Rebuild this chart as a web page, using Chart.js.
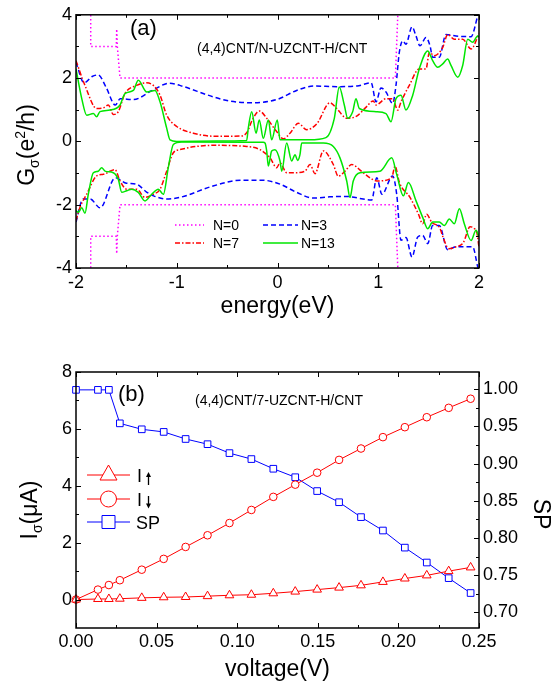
<!DOCTYPE html>
<html>
<head>
<meta charset="utf-8">
<script src="https://cdn.jsdelivr.net/npm/chart.js@4.4.1/dist/chart.umd.min.js"></script>
<style>
  html, body { margin: 0; padding: 0; background: #fff; }
  #wrap { position: relative; width: 552px; height: 688px; }
  canvas { position: absolute; left: 0; }
  #chart-a { top: 0; }
  #chart-b { top: 340px; }
</style>
</head>
<body>
<div id="wrap">
  <canvas id="chart-a" width="552" height="340"></canvas>
  <canvas id="chart-b" width="552" height="348"></canvas>
</div>
<script>
// ---- panel (a): conductance vs energy, [energy eV, G e^2/h] ----
const n0Up = [[-1.854, 4.5], [-1.854, 3], [-1.60, 3], [-1.596, 3.55], [-1.59, 3], [-1.563, 2], [1.17, 2], [1.20, 4.5]];
const n0Down = [[-1.854, -4.5], [-1.854, -3], [-1.60, -3], [-1.596, -3.55], [-1.59, -3], [-1.563, -2], [1.17, -2], [1.20, -4.5]];

const n3Up = [[-2, 2.5], [-1.92, 1.85], [-1.84, 2.05], [-1.78, 2.1], [-1.70, 1.7], [-1.61, 1.15], [-1.56, 1.35],
  [-1.43, 1.32], [-1.25, 1.6], [-1.07, 1.84], [-0.97, 1.77], [-0.64, 1.41], [-0.47, 1.27], [-0.25, 1.22],
  [0.0, 1.33], [0.19, 1.61], [0.36, 1.75], [0.59, 1.73], [0.79, 1.75], [0.93, 1.85], [0.978, 1.25],
  [1.027, 1.69], [1.077, 1.56], [1.143, 1.2], [1.176, 1.77], [1.209, 2.81], [1.243, 3.18], [1.275, 3.07],
  [1.335, 3.62], [1.375, 3.33], [1.414, 3.02], [1.474, 3.28], [1.514, 3.02], [1.54, 2.66], [1.606, 2.66],
  [1.672, 3.38], [1.772, 3.33], [1.921, 3.31], [1.987, 3.96], [2.0, 4.1]];
const n3Down = [[-2, -2.55], [-1.93, -1.82], [-1.86, -1.82], [-1.76, -2.1], [-1.61, -1.15], [-1.50, -1.32],
  [-1.40, -1.35], [-1.30, -1.6], [-1.23, -1.72], [-1.10, -1.82], [-0.97, -1.77], [-0.64, -1.41], [-0.37, -1.23],
  [-0.14, -1.23], [0.025, -1.35], [0.19, -1.61], [0.355, -1.79], [0.52, -1.75], [0.69, -1.74], [0.85, -1.82],
  [0.935, -1.85], [0.985, -1.15], [1.037, -1.67], [1.143, -1.09], [1.183, -1.67], [1.226, -3.12], [1.275, -3.04],
  [1.335, -3.65], [1.392, -3.02], [1.441, -2.97], [1.491, -3.23], [1.54, -2.66], [1.606, -2.66], [1.689, -3.42],
  [1.772, -3.33], [1.937, -3.33], [1.987, -3.96], [2.0, -4.1]];

const n7Up = [[-2, 2.55], [-1.911, 1.77], [-1.795, 1.04], [-1.729, 1.06], [-1.679, 1.15], [-1.63, 0.85],
  [-1.58, 0.94], [-1.514, 1.51], [-1.398, 1.77], [-1.30, 1.85], [-1.233, 1.77], [-1.166, 1.46], [-1.10, 0.83],
  [-1.0, 0.47], [-0.836, 0.26], [-0.604, 0.16], [-0.36, 0.17], [-0.30, 0.3], [-0.25, 0.68], [-0.18, 0.96],
  [-0.107, 0.73], [-0.008, 0.31], [0.058, 0.08], [0.124, 0.26], [0.207, 0.57], [0.29, 0.37], [0.389, 0.55],
  [0.521, 1.22], [0.588, 1.04], [0.687, 0.73], [0.786, 0.8], [0.885, 1.1], [0.951, 1.28], [0.978, 1.15],
  [1.077, 1.35], [1.143, 1.35], [1.193, 0.99], [1.226, 1.25], [1.308, 1.77], [1.407, 2.29], [1.474, 2.29],
  [1.507, 2.81], [1.556, 2.71], [1.64, 2.97], [1.689, 3.38], [1.755, 3.23], [1.838, 3.23], [1.921, 2.92], [2.0, 3.4]];
const n7Down = [[-2, -2.5], [-1.96, -2.08], [-1.894, -1.67], [-1.795, -1.09], [-1.729, -1.04], [-1.613, -0.89],
  [-1.563, -1.25], [-1.497, -1.51], [-1.398, -1.51], [-1.315, -1.77], [-1.233, -1.67], [-1.166, -1.51],
  [-1.10, -0.94], [-1.034, -0.36], [-0.968, -0.26], [-0.637, -0.125], [-0.306, -0.16], [-0.174, -0.26],
  [-0.074, -0.52], [-0.008, -0.83], [0.025, -0.68], [0.091, -0.99], [0.174, -0.99], [0.273, -0.94],
  [0.323, -0.73], [0.372, -1.02], [0.455, -0.3], [0.554, -0.73], [0.603, -1.1], [0.67, -0.94], [0.737, -0.73],
  [0.836, -0.95], [0.918, -1.15], [0.985, -1.25], [1.134, -1.15], [1.166, -0.78], [1.21, -1.3], [1.315, -1.77],
  [1.398, -2.29], [1.441, -2.6], [1.48, -2.3], [1.53, -2.55], [1.613, -2.75], [1.64, -3.0], [1.70, -3.39],
  [1.772, -3.33], [1.844, -3.2], [1.911, -2.7], [1.953, -2.75], [1.98, -2.9], [2.0, -3.35]];

const n13Up = [[-2, 2.29], [-1.943, 1.35], [-1.894, 0.83], [-1.828, 0.88], [-1.795, 0.78], [-1.762, 0.94],
  [-1.663, 0.99], [-1.563, 1.15], [-1.514, 1.51], [-1.431, 1.61], [-1.382, 1.93], [-1.298, 1.56], [-1.216, 1.61],
  [-1.166, 1.25], [-1.10, 0.42], [-1.067, 0.05], [-1.0, 0.0], [-0.6, 0.01], [-0.306, 0.03], [-0.29, 0.42],
  [-0.256, 0.94], [-0.213, 0.26], [-0.181, 0.68], [-0.141, 0.1], [-0.091, 0.68], [-0.058, 0.05], [-0.002, 0.68],
  [0.025, 0.05], [0.316, 0.05], [0.481, 0.12], [0.564, 0.73], [0.613, 1.72], [0.663, 1.15], [0.697, 0.73],
  [0.746, 0.94], [0.779, 1.35], [0.812, 1.04], [0.978, 0.94], [1.077, 0.88], [1.127, 0.62], [1.176, 1.35],
  [1.226, 1.46], [1.275, 0.99], [1.342, 1.46], [1.407, 2.29], [1.491, 2.86], [1.54, 2.55], [1.59, 2.34],
  [1.64, 2.45], [1.689, 2.6], [1.722, 2.4], [1.789, 2.03], [1.838, 2.4], [1.888, 3.23], [1.937, 3.13], [1.987, 3.33], [2.0, 3.3]];
const n13Down = [[-2, -2.19], [-1.977, -2.24], [-1.943, -2.1], [-1.911, -2.27], [-1.878, -1.67], [-1.828, -0.99],
  [-1.779, -0.94], [-1.745, -0.83], [-1.712, -0.94], [-1.63, -0.99], [-1.58, -1.2], [-1.546, -1.61],
  [-1.497, -1.56], [-1.447, -1.51], [-1.382, -1.61], [-1.315, -1.88], [-1.249, -1.67], [-1.183, -1.51],
  [-1.133, -1.67], [-1.084, -0.83], [-1.034, -0.1], [-0.951, -0.02], [-0.141, -0.03], [-0.124, -0.05],
  [-0.107, -0.31], [-0.091, -0.78], [-0.058, -0.3], [-0.025, -0.26], [0.025, -0.62], [0.042, -0.94],
  [0.091, -0.05], [0.141, -0.62], [0.174, -0.42], [0.2, -0.6], [0.223, -0.42], [0.24, -0.05], [0.455, -0.05],
  [0.554, -0.16], [0.62, -0.52], [0.687, -1.25], [0.72, -1.77], [0.752, -1.25], [0.819, -0.99], [1.017, -0.94],
  [1.134, -0.52], [1.183, -1.04], [1.249, -1.72], [1.299, -1.3], [1.375, -1.88], [1.441, -2.4], [1.491, -2.76],
  [1.54, -2.55], [1.606, -2.55], [1.656, -2.66], [1.705, -2.45], [1.755, -2.6], [1.805, -2.13], [1.854, -2.6],
  [1.921, -3.13], [1.97, -2.81], [2.0, -3.02]];

const energyMajor = [-2, -1, 0, 1, 2];
const energyMinor = [-1.5, -0.5, 0.5, 1.5];
const gMajor = [-4, -2, 0, 2, 4];
const gMinor = [-3, -1, 1, 3];

// ---- panel (b): current and spin polarisation vs bias ----
const voltage = [0, 0.0136, 0.0204, 0.0272, 0.0408, 0.0544, 0.068, 0.0816, 0.0952, 0.1088,
  0.1224, 0.136, 0.1496, 0.1632, 0.1768, 0.1904, 0.204, 0.2176, 0.2312, 0.2448];
const iUp = [0, 0.02, 0.02, 0.03, 0.06, 0.08, 0.09, 0.12, 0.15, 0.17,
  0.22, 0.28, 0.35, 0.42, 0.50, 0.62, 0.74, 0.85, 1.0, 1.13];
const iDown = [0, 0.35, 0.51, 0.68, 1.05, 1.43, 1.85, 2.26, 2.69, 3.15,
  3.61, 4.04, 4.46, 4.91, 5.31, 5.71, 6.06, 6.41, 6.74, 7.06];
const spol = [0.999, 0.999, 0.999, 0.954, 0.946, 0.9425, 0.933, 0.926, 0.914, 0.906,
  0.893, 0.8816, 0.863, 0.848, 0.828, 0.810, 0.787, 0.767, 0.746, 0.726];

const vMajor = [0, 0.05, 0.1, 0.15, 0.2, 0.25];
const vMinor = [0.025, 0.075, 0.125, 0.175, 0.225];
const iMajor = [0, 2, 4, 6, 8];
const iMinor = [1, 3, 5, 7];
const spMajor = [0.7, 0.75, 0.8, 0.85, 0.9, 0.95, 1.0];
const spMinor = [0.725, 0.775, 0.825, 0.875, 0.925, 0.975];

const FONT = 'Arial, "Liberation Sans", Helvetica, sans-serif';
Chart.defaults.font.family = FONT;
Chart.defaults.color = '#000';

const MAGENTA = '#ff00ff', BLUE = '#0000ff', RED = '#ff0000', GREEN = '#00e600';
const DASH = { n0: [1.5, 2.5], n3: [5, 3], n7: [5, 2, 1.5, 2], n13: [] };

function curve(points, color, dash, smooth) {
  return {
    data: points.map(p => ({ x: p[0], y: p[1] })),
    borderColor: color,
    borderWidth: 1.5,
    borderDash: dash,
    pointRadius: 0,
    fill: false,
    tension: 0,
    cubicInterpolationMode: smooth ? 'monotone' : 'default'
  };
}

function drawTicks(chart, list) {
  const ctx = chart.ctx, a = chart.chartArea;
  ctx.save();
  ctx.strokeStyle = '#000';
  ctx.lineWidth = 1;
  list.forEach(t => {
    const s = chart.scales[t.scale];
    t.values.forEach(v => {
      const p = Math.round(s.getPixelForValue(v)) + 0.5;
      ctx.beginPath();
      if (t.side === 'bottom') { ctx.moveTo(p, a.bottom); ctx.lineTo(p, a.bottom - t.len); }
      if (t.side === 'top') { ctx.moveTo(p, a.top); ctx.lineTo(p, a.top + t.len); }
      if (t.side === 'left') { ctx.moveTo(a.left, p); ctx.lineTo(a.left + t.len, p); }
      if (t.side === 'right') { ctx.moveTo(a.right, p); ctx.lineTo(a.right - t.len, p); }
      ctx.stroke();
    });
  });
  ctx.lineWidth = 1.5;
  ctx.strokeRect(a.left, a.top, a.right - a.left, a.bottom - a.top);
  ctx.restore();
}

// text made of pieces with sub/superscripts, centred on (x, y) along the baseline
function drawRich(ctx, parts, x, y, rot) {
  ctx.save();
  ctx.translate(x, y);
  ctx.rotate(rot);
  ctx.fillStyle = '#000';
  ctx.textBaseline = 'alphabetic';
  ctx.textAlign = 'left';
  let w = 0;
  parts.forEach(p => { ctx.font = p.size + 'px ' + FONT; w += ctx.measureText(p.t).width; });
  let cx = -w / 2;
  parts.forEach(p => {
    ctx.font = p.size + 'px ' + FONT;
    ctx.fillText(p.t, cx, p.dy || 0);
    cx += ctx.measureText(p.t).width;
  });
  ctx.restore();
}

function text(ctx, s, x, y, size) {
  ctx.save();
  ctx.fillStyle = '#000';
  ctx.font = size + 'px ' + FONT;
  ctx.textBaseline = 'alphabetic';
  ctx.textAlign = 'left';
  ctx.fillText(s, x, y);
  ctx.restore();
}

// spin arrow drawn as a stroke with a head, tip at (x, tip)
function spinArrow(ctx, x, tip, tail) {
  const dir = tail > tip ? 1 : -1;
  ctx.save();
  ctx.strokeStyle = '#000';
  ctx.fillStyle = '#000';
  ctx.lineWidth = 1.3;
  ctx.beginPath();
  ctx.moveTo(x, tip + dir * 3);
  ctx.lineTo(x, tail);
  ctx.stroke();
  ctx.beginPath();
  ctx.moveTo(x, tip);
  ctx.lineTo(x - 2.5, tip + dir * 5);
  ctx.lineTo(x + 2.5, tip + dir * 5);
  ctx.closePath();
  ctx.fill();
  ctx.restore();
}

function legendLine(ctx, x1, x2, y, color, dash) {
  ctx.save();
  ctx.strokeStyle = color;
  ctx.lineWidth = 1.5;
  ctx.setLineDash(dash);
  ctx.beginPath();
  ctx.moveTo(x1, y);
  ctx.lineTo(x2, y);
  ctx.stroke();
  ctx.restore();
}

const decorA = {
  id: 'decorA',
  afterDraw(chart) {
    const ctx = chart.ctx;
    drawTicks(chart, [
      { scale: 'x', values: energyMajor, side: 'bottom', len: 5 },
      { scale: 'x', values: energyMinor, side: 'bottom', len: 3 },
      { scale: 'x', values: energyMajor, side: 'top', len: 5 },
      { scale: 'x', values: energyMinor, side: 'top', len: 3 },
      { scale: 'y', values: gMajor, side: 'left', len: 5 },
      { scale: 'y', values: gMinor, side: 'left', len: 3 },
      { scale: 'y', values: gMajor, side: 'right', len: 5 },
      { scale: 'y', values: gMinor, side: 'right', len: 3 }
    ]);
    text(ctx, '(a)', 130, 35, 22);
    text(ctx, '(4,4)CNT/N-UZCNT-H/CNT', 197, 53, 14);
    drawRich(ctx, [{ t: 'energy(eV)', size: 23 }], 277.5, 313, 0);
    drawRich(ctx, [
      { t: 'G', size: 23 }, { t: 'σ', size: 14, dy: 5 }, { t: '(e', size: 23 },
      { t: '2', size: 14, dy: -9 }, { t: '/h)', size: 23 }
    ], 34, 145, -Math.PI / 2);
    legendLine(ctx, 175, 204, 225, MAGENTA, DASH.n0);
    legendLine(ctx, 175, 204, 243, RED, DASH.n7);
    legendLine(ctx, 263, 298, 225, BLUE, DASH.n3);
    legendLine(ctx, 263, 298, 243, GREEN, DASH.n13);
    text(ctx, 'N=0', 213, 230, 14);
    text(ctx, 'N=7', 213, 248, 14);
    text(ctx, 'N=3', 301, 230, 14);
    text(ctx, 'N=13', 301, 248, 14);
  }
};

function legendMarker(ctx, kind, x, y, color) {
  ctx.save();
  ctx.strokeStyle = color;
  ctx.fillStyle = '#fff';
  ctx.lineWidth = 1;
  ctx.beginPath();
  ctx.moveTo(87, y);
  ctx.lineTo(130, y);
  ctx.stroke();
  ctx.beginPath();
  if (kind === 'triangle') {
    ctx.moveTo(x, y - 10);
    ctx.lineTo(x + 8.5, y + 5);
    ctx.lineTo(x - 8.5, y + 5);
    ctx.closePath();
  } else if (kind === 'circle') {
    ctx.arc(x, y, 8, 0, Math.PI * 2);
  } else {
    ctx.rect(x - 6.5, y - 6.5, 13, 13);
  }
  ctx.fill();
  ctx.stroke();
  ctx.restore();
}

const decorB = {
  id: 'decorB',
  afterDraw(chart) {
    const ctx = chart.ctx;
    drawTicks(chart, [
      { scale: 'x', values: vMajor, side: 'bottom', len: 5 },
      { scale: 'x', values: vMinor, side: 'bottom', len: 3 },
      { scale: 'x', values: vMajor, side: 'top', len: 5 },
      { scale: 'x', values: vMinor, side: 'top', len: 3 },
      { scale: 'y', values: iMajor, side: 'left', len: 5 },
      { scale: 'y', values: iMinor, side: 'left', len: 3 },
      { scale: 'y1', values: spMajor, side: 'right', len: 5 },
      { scale: 'y1', values: spMinor, side: 'right', len: 3 }
    ]);
    // this canvas starts 340px down the page
    text(ctx, '(b)', 118, 61, 22);
    text(ctx, '(4,4)CNT/7-UZCNT-H/CNT', 195, 65, 14);
    drawRich(ctx, [{ t: 'voltage(V)', size: 23 }], 277.5, 336, 0);
    drawRich(ctx, [
      { t: 'I', size: 23 }, { t: 'σ', size: 14, dy: 5 }, { t: '(μA)', size: 23 }
    ], 37, 170, -Math.PI / 2);
    drawRich(ctx, [{ t: 'SP', size: 23 }], 534, 174, Math.PI / 2);
    legendMarker(ctx, 'triangle', 108.5, 135, RED);
    legendMarker(ctx, 'circle', 108.5, 159, RED);
    legendMarker(ctx, 'rect', 108.5, 182, BLUE);
    text(ctx, 'I', 137, 141.5, 18);
    spinArrow(ctx, 148.5, 132, 145);
    text(ctx, 'I', 137, 165.5, 18);
    spinArrow(ctx, 148.5, 168.5, 156);
    text(ctx, 'SP', 136, 188.5, 18);
  }
};

const tickFont = { size: 18 };

new Chart(document.getElementById('chart-a'), {
  type: 'line',
  data: {
    datasets: [
      curve(n13Up, GREEN, DASH.n13, true),
      curve(n13Down, GREEN, DASH.n13, true),
      curve(n7Up, RED, DASH.n7, true),
      curve(n7Down, RED, DASH.n7, true),
      curve(n3Up, BLUE, DASH.n3, true),
      curve(n3Down, BLUE, DASH.n3, true),
      curve(n0Up, MAGENTA, DASH.n0, false),
      curve(n0Down, MAGENTA, DASH.n0, false)
    ]
  },
  options: {
    responsive: false,
    animation: false,
    events: [],
    layout: { padding: { top: 12, right: 73, left: 0, bottom: 0 } },
    plugins: { legend: { display: false }, tooltip: { enabled: false } },
    scales: {
      x: {
        type: 'linear', min: -2, max: 2,
        grid: { display: false, drawTicks: false },
        border: { display: false },
        ticks: { stepSize: 1, includeBounds: false, maxRotation: 0, autoSkip: false, padding: 4, font: tickFont, color: '#000' },
        afterFit: s => { s.height = 72; }
      },
      y: {
        type: 'linear', min: -4, max: 4,
        grid: { display: false, drawTicks: false },
        border: { display: false },
        ticks: { stepSize: 2, includeBounds: false, padding: 4, font: tickFont, color: '#000' },
        afterFit: s => { s.width = 76; }
      }
    }
  },
  plugins: [decorA]
});

function series(values, color, style, radius, axis) {
  return {
    data: voltage.map((v, i) => ({ x: v, y: values[i] })),
    borderColor: color,
    borderWidth: 1,
    pointStyle: style,
    pointRadius: radius,
    pointBorderWidth: 1,
    pointBorderColor: color,
    pointBackgroundColor: '#fff',
    fill: false,
    tension: 0,
    clip: false,
    yAxisID: axis
  };
}

new Chart(document.getElementById('chart-b'), {
  type: 'line',
  data: {
    datasets: [
      series(iUp, RED, 'triangle', 5, 'y'),
      series(iDown, RED, 'circle', 3.8, 'y'),
      series(spol, BLUE, 'rect', 4.7, 'y1')
    ]
  },
  options: {
    responsive: false,
    animation: false,
    events: [],
    layout: { padding: { top: 32, right: 0, left: 0, bottom: 0 } },
    plugins: { legend: { display: false }, tooltip: { enabled: false } },
    scales: {
      x: {
        type: 'linear', min: 0, max: 0.25,
        grid: { display: false, drawTicks: false },
        border: { display: false },
        ticks: { stepSize: 0.05, includeBounds: false, maxRotation: 0, autoSkip: false, padding: 3, font: tickFont, color: '#000',
          callback: v => v.toFixed(2) },
        afterFit: s => { s.height = 60; }
      },
      y: {
        type: 'linear', position: 'left', min: -1, max: 8,
        grid: { display: false, drawTicks: false },
        border: { display: false },
        ticks: { stepSize: 2, includeBounds: false, padding: 4, font: tickFont, color: '#000' },
        afterFit: s => { s.width = 76; }
      },
      y1: {
        type: 'linear', position: 'right', min: 0.679, max: 1.023,
        grid: { display: false, drawTicks: false },
        border: { display: false },
        ticks: { stepSize: 0.05, includeBounds: false, padding: 4, font: tickFont, color: '#000',
          callback: v => v.toFixed(2) },
        afterFit: s => { s.width = 73; }
      }
    }
  },
  plugins: [decorB]
});
</script>
</body>
</html>
